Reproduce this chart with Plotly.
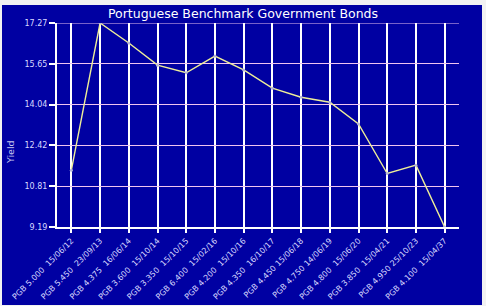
import plotly.graph_objects as go

NB = "\u00a0"
bonds = [
    "PGB 5.000" + NB + " 15/06/12",
    "PGB 5.450" + NB + " 23/09/13",
    "PGB 4.375" + NB + " 16/06/14",
    "PGB 3.600" + NB + " 15/10/14",
    "PGB 3.350" + NB + " 15/10/15",
    "PGB 6.400" + NB + " 15/02/16",
    "PGB 4.200" + NB + " 15/10/16",
    "PGB 4.350" + NB + " 16/10/17",
    "PGB 4.450 15/06/18",
    "PGB 4.750 14/06/19",
    "PGB 4.800" + NB + " 15/06/20",
    "PGB 3.850" + NB + " 15/04/21",
    "PGB 4.950 25/10/23",
    "PGB 4.100" + NB + " 15/04/37",
]
yields = [11.44, 17.27, 16.48, 15.60, 15.30, 15.96, 15.41, 14.69, 14.33, 14.13, 13.27, 11.31, 11.64, 9.19]
y_ticks = [9.19, 10.81, 12.42, 14.04, 15.65, 17.27]

BLUE = "#0000A2"
W, H = 486, 306
L, R, T, B = 57, 27, 23, 79
pw, ph = W - L - R, H - T - B

def px2paper_x(px):
    return (px - L) / pw

def px2paper_y(py):
    return (H - B - py) / ph

fig = go.Figure()
fig.add_trace(go.Scatter(
    x=bonds, y=yields, mode="lines+markers",
    line=dict(color="#eeee98", width=1.4),
    marker=dict(size=3, color="#b8b8d8"),
    hoverinfo="x+y",
))

fig.update_layout(
    width=W, height=H,
    margin=dict(l=L, r=R, t=T, b=B, pad=0, autoexpand=False),
    paper_bgcolor="#f2f2f2",
    plot_bgcolor=BLUE,
    showlegend=False,
    font=dict(family="DejaVu Sans, Verdana, sans-serif", color="#d8d8ff", size=8),
    title=dict(text="Portuguese Benchmark Government Bonds", x=0.5, xanchor="center",
               y=1 - 14 / H, yanchor="middle",
               font=dict(size=12.5, color="white", family="DejaVu Sans, Verdana, sans-serif")),
    shapes=[
        dict(type="rect", xref="paper", yref="paper",
             x0=px2paper_x(2), x1=px2paper_x(482),
             y0=px2paper_y(305), y1=px2paper_y(5),
             fillcolor=BLUE, line=dict(width=0), layer="below"),
        dict(type="line", xref="paper", yref="y",
             x0=0, x1=1, y0=y_ticks[-1], y1=y_ticks[-1],
             line=dict(color="#f0c4f0", width=1.2), layer="below"),
    ],
    annotations=[dict(text="Yield", xref="paper", yref="paper",
                      x=px2paper_x(10), y=px2paper_y(152), showarrow=False,
                      textangle=-90, font=dict(size=9.5, color="#c8c8f0"),
                      xanchor="center", yanchor="middle")],
)
fig.update_xaxes(
    type="category", range=[-0.5, len(bonds) - 0.5],
    showgrid=True, gridcolor="white", gridwidth=1.5,
    showline=True, linecolor="white", linewidth=2,
    ticks="outside", ticklen=4, tickcolor="white", tickwidth=2,
    tickangle=-45, tickfont=dict(size=8, color="#d8d8ff"),
    zeroline=False, fixedrange=True, automargin=False,
)
fig.update_yaxes(
    range=[y_ticks[0], y_ticks[-1]],
    tickvals=y_ticks, ticktext=[f"{v:.2f}" for v in y_ticks],
    showgrid=True, gridcolor="#f0c4f0", gridwidth=1.2,
    showline=True, linecolor="white", linewidth=2,
    ticks="outside", ticklen=6, tickcolor="white", tickwidth=2,
    tickfont=dict(size=8, color="#d8d8ff"),
    zeroline=False, fixedrange=True, automargin=False,
)
fig.write_html("out.html")
